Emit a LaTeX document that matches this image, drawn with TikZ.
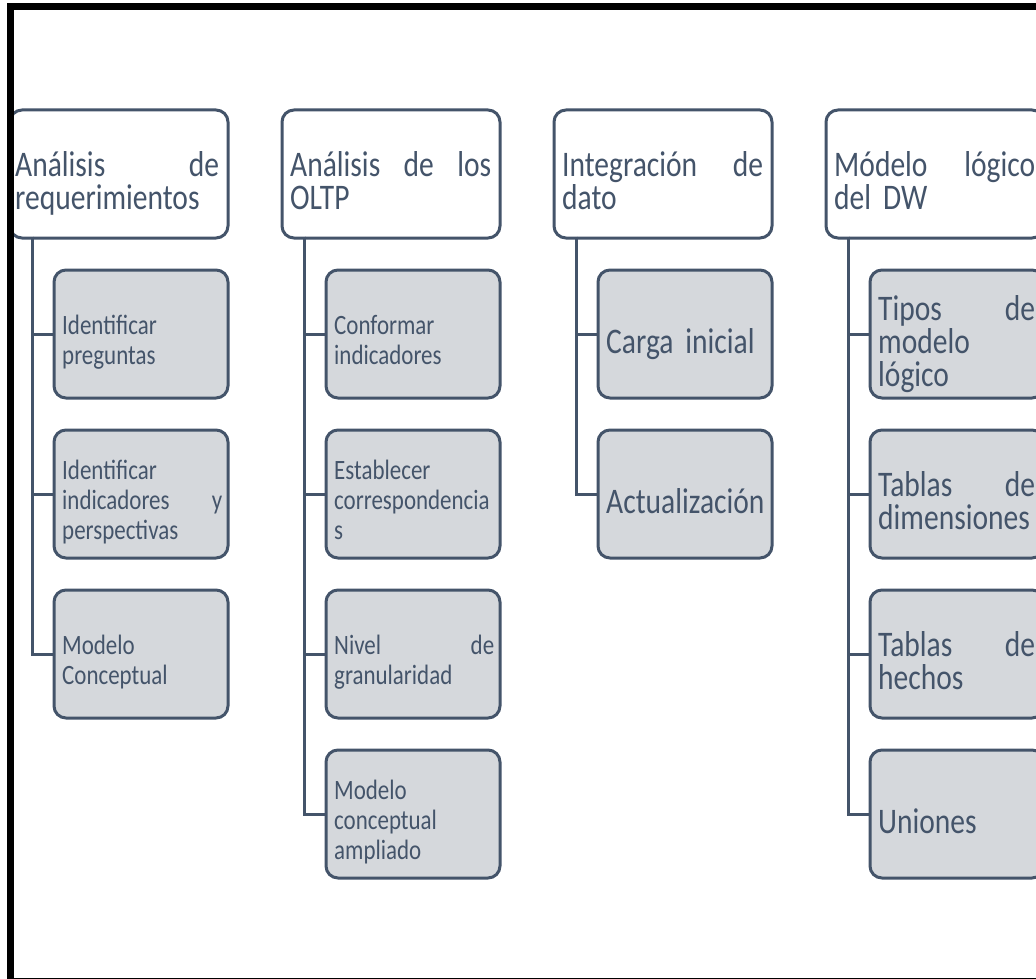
\documentclass[tikz,border=0pt]{standalone}
\usepackage{fontspec}
\usetikzlibrary{calc}
\newfontfamily\boxfont{Carlito}[FakeStretch=0.82]
\definecolor{edge}{HTML}{44546A}
\definecolor{subfill}{HTML}{D5D8DC}
\definecolor{txt}{HTML}{44546A}

% text placed by its first baseline inside a box
\newcommand\putbig[5][]{\node[bigtxt,#1] (#2) at ($(#3.west)+(8,{19-(#4-1)*16.5})$) {#5};}
\newcommand\putsmall[4]{\node[smalltxt] (#1) at ($(#2.west)+(8,{15-(#3-1)*15})$) {#4};}

\begin{document}
\begin{tikzpicture}[x=1pt,y=-1pt,
  topbox/.style={draw=edge, line width=3pt, rounded corners=12pt, fill=white,
    minimum width=218pt, minimum height=128pt, inner sep=0pt, outer sep=0pt, anchor=north west},
  subbox/.style={topbox, fill=subfill, minimum width=174pt},
  conn/.style={draw=edge, line width=3pt},
  bigtxt/.style={anchor=base west, inner sep=0pt, text width=157pt, align=left, text=txt,
    font=\boxfont\fontsize{36}{33}\selectfont},
  wide/.style={text width=201pt},
  smalltxt/.style={anchor=base west, inner sep=0pt, text width=160pt, align=left, text=txt,
    font=\boxfont\fontsize{28}{30}\selectfont}]
\useasboundingbox (0,0) rectangle (1036,979);
\clip (0,0) rectangle (1036,979);
\fill[white] (0,0) rectangle (1036,979);

\path (10,110) coordinate (h1o) (282,110) coordinate (h2o)
      (554,110) coordinate (h3o) (826,110) coordinate (h4o);

% heading boxes
\node[topbox] (h1) at (h1o) {};
\node[topbox] (h2) at (h2o) {};
\node[topbox] (h3) at (h3o) {};
\node[topbox] (h4) at (h4o) {};

% sub-step boxes
\node[subbox] (a1) at (54,270) {};
\node[subbox] (a2) at (54,430) {};
\node[subbox] (a3) at (54,590) {};

\node[subbox] (b1) at (326,270) {};
\node[subbox] (b2) at (326,430) {};
\node[subbox] (b3) at (326,590) {};
\node[subbox] (b4) at (326,750) {};

\node[subbox] (c1) at (598,270) {};
\node[subbox] (c2) at (598,430) {};

\node[subbox] (d1) at (870,270) {};
\node[subbox] (d2) at (870,430) {};
\node[subbox] (d3) at (870,590) {};
\node[subbox] (d4) at (870,750) {};

% tree connectors from each heading down to its sub-steps
\foreach \h/\c in {h1/a1,h1/a2,h1/a3,h2/b1,h2/b2,h2/b3,h2/b4,h3/c1,h3/c2,h4/d1,h4/d2,h4/d3,h4/d4}
  \draw[conn] ($(\h.south west)+(22,-1.5)$) |- ($(\c.west)+(-1.5,0)$);

% heading texts
\putbig[wide]{th1}{h1}{2}{\hspace*{-3pt}Análisis\hfill de\\\hspace*{-3pt}requerimientos}
\putbig[wide]{th2}{h2}{2}{Análisis\hfill de\hfill los\\OLTP}
\putbig[wide]{th3}{h3}{2}{Integración\hfill de\\dato}
\putbig[wide]{th4}{h4}{2}{Módelo\hfill lógico\\del DW}

% sub-step texts
\putsmall{ta1}{a1}{2}{Identificar\\preguntas}
\putsmall{ta2}{a2}{3}{Identificar\\indicadores\hfill y\\perspectivas}
\putsmall{ta3}{a3}{2}{Modelo\\Conceptual}

\putsmall{tb1}{b1}{2}{Conformar\\indicadores}
\putsmall{tb2}{b2}{3}{Establecer\\correspondencia\\s}
\putsmall{tb3}{b3}{2}{Nivel\hfill de\\granularidad}
\putsmall{tb4}{b4}{3}{Modelo\\conceptual\\ampliado}

\putbig{tc1}{c1}{1}{Carga inicial}
\putbig{tc2}{c2}{1}{Actualización}

\putbig{td1}{d1}{3}{Tipos\hfill de\\modelo\\lógico}
\putbig{td2}{d2}{2}{Tablas\hfill de\\dimensiones}
\putbig{td3}{d3}{2}{Tablas\hfill de\\hechos}
\putbig{td4}{d4}{1}{Uniones}

% outer frame
\draw[line width=7pt, black] (10,7) rectangle (1070,981);
\end{tikzpicture}
\end{document}
